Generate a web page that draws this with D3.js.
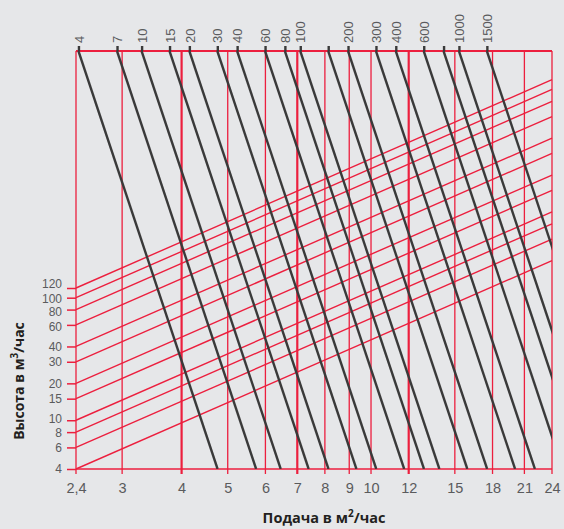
<!DOCTYPE html>
<html><head><meta charset="utf-8">
<script src="https://cdn.jsdelivr.net/npm/d3@7"></script>
<style>
html,body{margin:0;padding:0;background:#e6e7e9;}
svg{display:block;font-family:"Open Sans",sans-serif;}
</style></head><body>
<svg id="chart" width="564" height="529"></svg>
<script>
// ---- data ----
const flowTicks = [2.4, 3, 4, 5, 6, 7, 8, 9, 10, 12, 15, 18, 21, 24];
const headTicks = [4, 6, 8, 10, 15, 20, 30, 40, 60, 80, 100, 120];
const lineValues = [4, 7, 10, 15, 20, 30, 40, 60, 80, 100, 150, 200, 300, 400, 600, 800, 1000, 1500];
const lineLabels = [4, 7, 10, 15, 20, 30, 40, 60, 80, 100, 200, 300, 400, 600, 1000, 1500];
const strongFlow = [4, 7, 12];
// nomogram constants
const headExponent = 1.7;      // head lines rise 1.7 decades per decade of flow
const lineCoef = 1.53;         // flow where a dark line meets the top edge = coef * value^(1/3)
const lineExponent = 1 / 3;
const lineRun = 1.96;          // flow factor from top to bottom along a dark line

// ---- layout ----
const W = 564, H = 529;
const m = {top: 51, right: 12, bottom: 60, left: 76};
const x0 = m.left, x1 = W - m.right, y0 = m.top, y1 = H - m.bottom;
const RED = "#ec1f3e", DARK = "#3a3a3a", GREY = "#5a5b5d", INK = "#231f20";
// small label nudges so neighbouring head labels do not collide
const labelNudge = {8: 1, 10: -1.5, 60: 1.5, 80: 2.5, 100: 0.5, 120: -4.5};

const svg = d3.select("#chart");
const x = d3.scaleLog().domain([2.4, 24]).range([x0, x1]);
const y = d3.scaleLog().domain([4, 120]).range([y1, 288]);
const qTop = v => lineCoef * Math.pow(v, lineExponent);
const topScale = d3.scaleLog().domain([4, 1500]).range([x(qTop(4)), x(qTop(1500))]);

svg.append("defs").append("clipPath").attr("id", "plot")
  .append("rect").attr("x", x0).attr("y", y0).attr("width", x1 - x0).attr("height", y1 - y0);

// vertical flow lines
svg.append("g").selectAll("line").data(flowTicks).join("line")
  .attr("x1", d => x(d)).attr("x2", d => x(d))
  .attr("y1", y0).attr("y2", y1 + 5)
  .attr("stroke", RED)
  .attr("stroke-width", d => strongFlow.includes(d) ? 2.2 : 1.3);

// oblique head lines
const headLine = d3.line().x(d => x(d.q)).y(d => y(d.n));
svg.append("g").selectAll("path").data(headTicks).join("path")
  .attr("d", h => headLine([2.4, 24].map(q => ({q, n: h * Math.pow(q / 2.4, headExponent)}))))
  .attr("fill", "none").attr("stroke", RED).attr("stroke-width", 1.4);

// frame top / bottom
svg.append("line").attr("x1", x0).attr("x2", x1).attr("y1", y0).attr("y2", y0)
  .attr("stroke", RED).attr("stroke-width", 1.8);
svg.append("line").attr("x1", x0).attr("x2", x1).attr("y1", y1).attr("y2", y1)
  .attr("stroke", RED).attr("stroke-width", 1.6);

// dark lines
svg.append("g").attr("clip-path", "url(#plot)").selectAll("line").data(lineValues).join("line")
  .attr("x1", v => x(qTop(v))).attr("y1", y0)
  .attr("x2", v => x(qTop(v) * lineRun)).attr("y2", y1)
  .attr("stroke", DARK).attr("stroke-width", 2.4);

// top axis (dark line labels)
const topAxis = svg.append("g").attr("transform", `translate(0,${y0})`)
  .call(d3.axisTop(topScale).tickValues(lineValues).tickSize(5)
    .tickFormat(d => lineLabels.includes(d) ? String(d) : ""));
topAxis.select(".domain").remove();
topAxis.selectAll(".tick line").attr("stroke", DARK).attr("stroke-width", 2.4);
topAxis.selectAll(".tick text")
  .attr("transform", "rotate(-90)").attr("x", 8).attr("y", 0).attr("dy", "0.36em")
  .style("text-anchor", "start").attr("fill", GREY).style("font-size", "13px");

// left axis (heads)
const leftAxis = svg.append("g").attr("transform", `translate(${x0},0)`)
  .call(d3.axisLeft(y).tickValues(headTicks).tickSize(9).tickPadding(5).tickFormat(d3.format("d")));
leftAxis.select(".domain").remove();
leftAxis.selectAll(".tick line").attr("stroke", RED).attr("stroke-width", 1.5);
leftAxis.selectAll(".tick text").attr("fill", GREY).style("font-size", "12px")
  .attr("y", d => labelNudge[d] || 0);

// bottom axis (flow)
const bottomAxis = svg.append("g").attr("transform", `translate(0,${y1})`)
  .call(d3.axisBottom(x).tickValues(flowTicks).tickSize(0).tickPadding(14)
    .tickFormat(d => String(d).replace(".", ",")));
bottomAxis.select(".domain").remove();
bottomAxis.selectAll(".tick text").attr("fill", GREY).style("font-size", "14.5px");

// axis titles
const xt = svg.append("text").attr("x", (x0 + x1) / 2 + 10).attr("y", 523)
  .attr("text-anchor", "middle").attr("fill", INK)
  .style("font-weight", "bold").style("font-size", "14.5px");
xt.append("tspan").text("Подача в м");
xt.append("tspan").attr("dy", -6).style("font-size", "10px").text("2");
xt.append("tspan").attr("dy", 6).text("/час");

const yt = svg.append("text").attr("transform", "translate(24,381) rotate(-90)")
  .attr("text-anchor", "middle").attr("fill", INK)
  .style("font-weight", "bold").style("font-size", "14px");
yt.append("tspan").text("Высота в м");
yt.append("tspan").attr("dy", -6).style("font-size", "10px").text("3");
yt.append("tspan").attr("dy", 6).text("/час");
</script>
</body></html>
